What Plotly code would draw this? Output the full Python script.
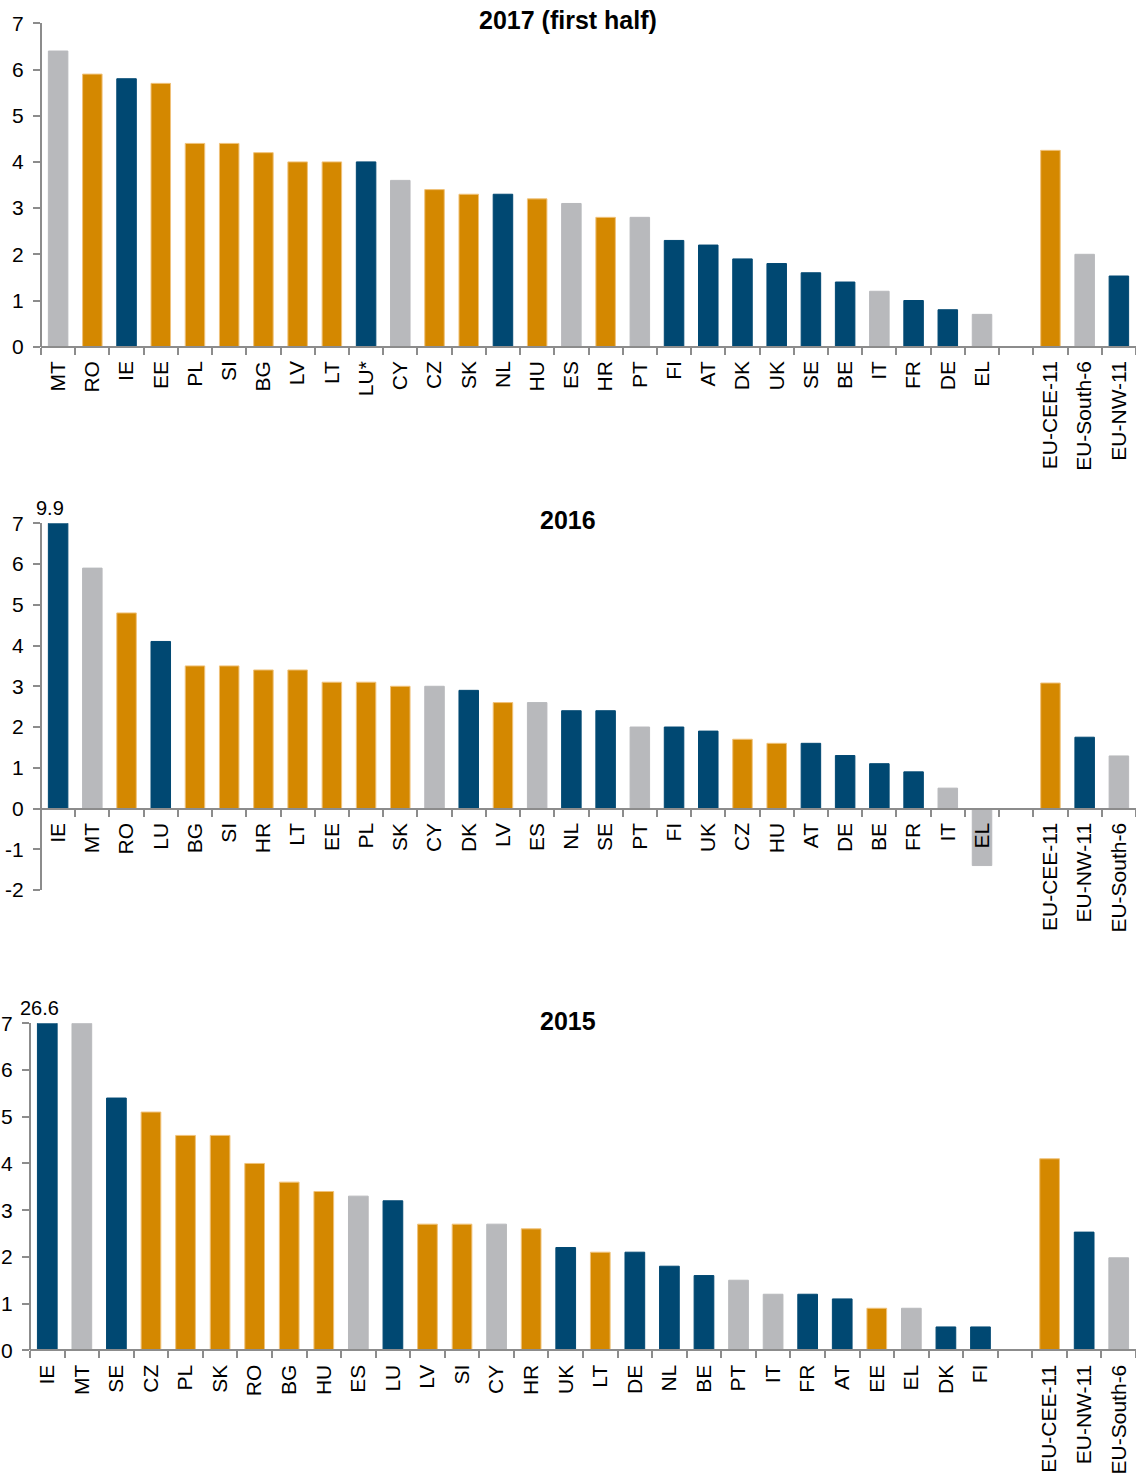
import plotly.graph_objects as go

# ---------------- data ----------------
cats_2017 = ["MT", "RO", "IE", "EE", "PL", "SI", "BG", "LV", "LT", "LU*", "CY", "CZ", "SK", "NL",
             "HU", "ES", "HR", "PT", "FI", "AT", "DK", "UK", "SE", "BE", "IT", "FR", "DE", "EL",
             " ", "EU-CEE-11", "EU-South-6", "EU-NW-11"]
vals_2017 = [6.4, 5.9, 5.8, 5.7, 4.4, 4.4, 4.2, 4.0, 4.0, 4.0, 3.6, 3.4, 3.3, 3.3,
             3.2, 3.1, 2.8, 2.8, 2.3, 2.2, 1.9, 1.8, 1.6, 1.4, 1.2, 1.0, 0.8, 0.7,
             None, 4.25, 2.0, 1.53]

cats_2016 = ["IE", "MT", "RO", "LU", "BG", "SI", "HR", "LT", "EE", "PL", "SK", "CY", "DK", "LV",
             "ES", "NL", "SE", "PT", "FI", "UK", "CZ", "HU", "AT", "DE", "BE", "FR", "IT", "EL",
             " ", "EU-CEE-11", "EU-NW-11", "EU-South-6"]
vals_2016 = [9.9, 5.9, 4.8, 4.1, 3.5, 3.5, 3.4, 3.4, 3.1, 3.1, 3.0, 3.0, 2.9, 2.6,
             2.6, 2.4, 2.4, 2.0, 2.0, 1.9, 1.7, 1.6, 1.6, 1.3, 1.1, 0.9, 0.5, -1.4,
             None, 3.08, 1.75, 1.29]

cats_2015 = ["IE", "MT", "SE", "CZ", "PL", "SK", "RO", "BG", "HU", "ES", "LU", "LV", "SI", "CY",
             "HR", "UK", "LT", "DE", "NL", "BE", "PT", "IT", "FR", "AT", "EE", "EL", "DK", "FI",
             " ", "EU-CEE-11", "EU-NW-11", "EU-South-6"]
vals_2015 = [26.6, 7.0, 5.4, 5.1, 4.6, 4.6, 4.0, 3.6, 3.4, 3.3, 3.2, 2.7, 2.7, 2.7,
             2.6, 2.2, 2.1, 2.1, 1.8, 1.6, 1.5, 1.2, 1.2, 1.1, 0.9, 0.9, 0.5, 0.5,
             None, 4.1, 2.53, 1.98]

titles = ["2017 (first half)", "2016", "2015"]
clipped_labels = {"2016": ("IE", "9.9"), "2015": ("IE", "26.6")}

group_cee = ["BG", "CZ", "EE", "HR", "HU", "LT", "LV", "PL", "RO", "SI", "SK", "EU-CEE-11"]
group_south = ["CY", "EL", "ES", "IT", "MT", "PT", "EU-South-6"]
group_nw = ["AT", "BE", "DE", "DK", "FI", "FR", "IE", "LU", "LU*", "NL", "SE", "UK", "EU-NW-11"]

ytick_top = [0, 1, 2, 3, 4, 5, 6, 7]
ytick_mid_vals = [-2, -1, 0, 1, 2, 3, 4, 5, 6, 7]
ytick_mid_text = ["-2", "-1", "0", "1", "2", "3", "4", "5", "6", "7"]

# ---------------- style ----------------
NAVY = "#004872"
ORANGE = "#D48800"
GRAY = "#B8B9BC"
AXIS = "#8C8C8C"
FONT = "Liberation Sans, Arial, sans-serif"
W, H = 1136, 1477


def colour(c):
    if c in group_cee:
        return ORANGE
    if c in group_south:
        return GRAY
    return NAVY


def edge(c):
    return "#F0C27A" if c in group_cee else colour(c)


def py(p):
    return 1 - p / H


fig = go.Figure()

panels = [
    dict(cats=cats_2017, vals=vals_2017, top=23.3, bot=346.7, left=41, rng=[0, 7],
         tv=ytick_top, tt=[str(v) for v in ytick_top], zero=346.7, title_y=20),
    dict(cats=cats_2016, vals=vals_2016, top=523.3, bot=890, left=41, rng=[-2, 7],
         tv=ytick_mid_vals, tt=ytick_mid_text, zero=808.5, title_y=520),
    dict(cats=cats_2015, vals=vals_2015, top=1023.3, bot=1350.3, left=30, rng=[0, 7],
         tv=ytick_top, tt=[str(v) for v in ytick_top], zero=1350.3, title_y=1021),
]

layout = {}
annotations = []
for i, p in enumerate(panels):
    n = i + 1
    xa = "x" if n == 1 else f"x{n}"
    ya = "y" if n == 1 else f"y{n}"
    fig.add_trace(go.Bar(
        x=p["cats"], y=p["vals"], xaxis=xa, yaxis=ya,
        marker=dict(color=[colour(c) for c in p["cats"]],
                    line=dict(color=[edge(c) for c in p["cats"]], width=1)),
        showlegend=False, hoverinfo="x+y",
    ))
    xkey = "xaxis" if n == 1 else f"xaxis{n}"
    ykey = "yaxis" if n == 1 else f"yaxis{n}"
    layout[xkey] = dict(
        domain=[p["left"] / W, 1], anchor="free", position=py(p["zero"]),
        type="category", categoryorder="array", categoryarray=p["cats"],
        range=[-0.5, len(p["cats"]) - 0.5], automargin=False,
        showline=True, linecolor=AXIS, linewidth=2,
        ticks="outside", tickson="boundaries", ticklen=7, tickwidth=2, tickcolor=AXIS,
        tickangle=-90, tickfont=dict(family=FONT, size=21, color="black"),
        ticklabelstandoff=5,
        showgrid=False, zeroline=False, fixedrange=True,
    )
    layout[ykey] = dict(
        domain=[py(p["bot"]), py(p["top"])], anchor="free",
        position=p["left"] / W, range=p["rng"], automargin=False,
        tickvals=p["tv"], ticktext=p["tt"],
        showline=True, linecolor=AXIS, linewidth=2,
        ticks="outside", ticklen=7, tickwidth=2, tickcolor=AXIS,
        tickfont=dict(family=FONT, size=21, color="black"),
        ticklabelstandoff=5,
        showgrid=False, zeroline=False, fixedrange=True,
    )
    annotations.append(dict(
        text=f"<b>{titles[i]}</b>", xref="paper", yref="paper", x=0.5, y=py(p["title_y"]),
        xanchor="center", yanchor="middle", showarrow=False,
        font=dict(family=FONT, size=25, color="black"),
    ))
    key = titles[i]
    if key in clipped_labels:
        cat, txt = clipped_labels[key]
        annotations.append(dict(
            text=txt, xref=xa, yref=ya, x=cat, y=p["rng"][1],
            xanchor="center", yanchor="bottom", yshift=2, xshift=-8, showarrow=False,
            font=dict(family=FONT, size=20, color="black"),
        ))

fig.update_layout(
    template="none",
    width=W, height=H,
    margin=dict(l=0, r=0, t=0, b=0, pad=0),
    paper_bgcolor="white", plot_bgcolor="white",
    bargap=0.43,
    annotations=annotations,
    **layout,
)

fig.write_html("out.html", config={"displayModeBar": False},
               post_script="document.body.style.margin='0';document.body.style.overflow='hidden';")
